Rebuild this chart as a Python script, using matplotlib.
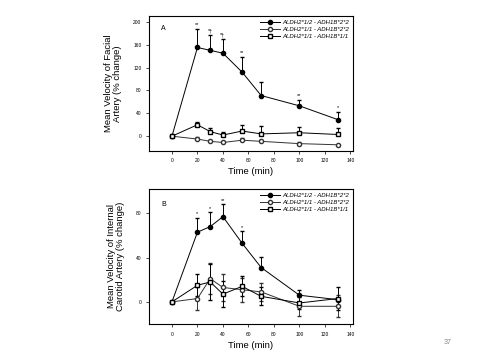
import matplotlib
matplotlib.use('Agg')
from matplotlib import pyplot as plt
from matplotlib.lines import Line2D

plt.rcParams['font.family'] = ['Liberation Sans', 'DejaVu Sans']

time = [0, 20, 30, 40, 55, 70, 100, 130]
labels = ['ALDH2*1/2 - ADH1B*2*2', 'ALDH2*1/1 - ADH1B*2*2', 'ALDH2*1/1 - ADH1B*1/1']

# panel A: facial artery
fa_1 = [0, 155, 150, 145, 112, 71, 53, 29]
fa_1_err = [0, 33, 27, 25, 27, 24, 11, 14]
fa_2 = [0, -5, -9, -11, -7, -9, -13, -15]
fa_2_err = [0, 3, 2, 2, 3, 2, 2, 0]
fa_3 = [0, 20, 8, 2, 9, 4, 6, 3]
fa_3_err = [0, 5, 7, 6, 10, 13, 10, 11]
fa_marks = ['', '**', '*\u2020', '*\u2020', '**', '', '**', '*']

# panel B: internal carotid artery
ica_1 = [0, 63, 68, 77, 53, 31, 6, 2]
ica_1_err = [0, 13, 13, 11, 11, 10, 5, 0]
ica_2 = [0, 3, 21, 13, 11, 9, -4, -4]
ica_2_err = [0, 10, 14, 12, 11, 8, 9, 10]
ica_3 = [0, 15, 18, 7, 14, 5, -1, 3]
ica_3_err = [0, 10, 16, 12, 9, 8, 5, 10]
ica_marks = ['', '*', '*', '**', '*', '', '', '']

fig = plt.figure(figsize=(4.83, 3.63), dpi=100)
ax1 = fig.add_axes([149 / 483, 1 - 150.5 / 363, 204 / 483, 134.5 / 363])
ax2 = fig.add_axes([149 / 483, 1 - 324 / 363, 204 / 483, 135 / 363])

styles = [dict(color='black', marker='o', ms=3),
          dict(color='#333333', marker='o', ms=3, mfc='white'),
          dict(color='black', marker='s', ms=3.5, mfc='white')]


def draw(ax, s1, e1, s2, e2, s3, e3, marks, both):
    lw = 0.7
    zero = [0] * len(time)
    ax.errorbar(time, s1, yerr=[zero, e1], lw=lw, capsize=1.5,
                elinewidth=lw, **styles[0])
    ax.errorbar(time, s2, yerr=[e2 if both else zero, e2], lw=lw,
                capsize=1.5, elinewidth=lw, **styles[1])
    ax.errorbar(time, s3, yerr=[e3 if both else zero, e3], lw=lw,
                capsize=1.5, elinewidth=lw, **styles[2])
    for x, y, e, m in zip(time, s1, e1, marks):
        if m:
            ax.annotate(m, (x, y + e), xytext=(0, 1), textcoords='offset points',
                        ha='center', va='bottom', fontsize=4)
    ax.set_xlim(-18, 142)
    ax.set_xticks(range(0, 141, 20))
    ax.tick_params(labelsize=3.5, length=2, width=0.5)
    for sp in ax.spines.values():
        sp.set_linewidth(0.8)
    handles = [Line2D([], [], lw=lw, **st) for st in styles]
    leg = ax.legend(handles, labels, loc='upper right', fontsize=4.3,
                    frameon=False, handlelength=3.2, handletextpad=0.5,
                    borderaxespad=0.2, labelspacing=0.35)
    for t in leg.get_texts():
        t.set_fontstyle('italic')
    ax.set_xlabel('Time (min)', fontsize=6.8, labelpad=3)


draw(ax1, fa_1, fa_1_err, fa_2, fa_2_err, fa_3, fa_3_err, fa_marks, False)
ax1.set_ylim(-25, 210)
ax1.set_yticks(range(0, 201, 40))
ax1.set_ylabel('Mean Velocity of Facial\nArtery (% change)', fontsize=6.8,
               linespacing=1.0, labelpad=8)
ax1.text(0.06, 0.93, 'A', transform=ax1.transAxes, fontsize=5, va='top')

draw(ax2, ica_1, ica_1_err, ica_2, ica_2_err, ica_3, ica_3_err, ica_marks, True)
ax2.set_ylim(-20, 102)
ax2.set_yticks([0, 40, 80])
ax2.set_ylabel('Mean Velocity of Internal\nCarotid Artery (% change)', fontsize=6.8,
               linespacing=1.0, labelpad=8)
ax2.text(0.06, 0.91, 'B', transform=ax2.transAxes, fontsize=5, va='top')

fig.text(448 / 483, 1 - 343 / 363, '37', fontsize=5, color='#888888',
         ha='center', va='center')

fig.savefig('out.png', dpi=100)
